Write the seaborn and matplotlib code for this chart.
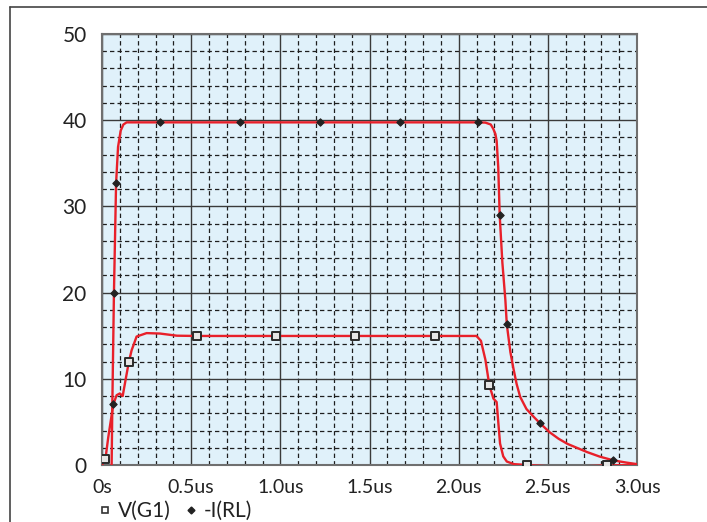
import numpy as np
import pandas as pd
import matplotlib
matplotlib.use("Agg")
import matplotlib.pyplot as plt
import seaborn as sns
from matplotlib.lines import Line2D

# V(G1) trace (time in us, volts)
vg1_t = [0, 0.019, 0.035, 0.063, 0.082, 0.10, 0.116, 0.135, 0.15, 0.166, 0.194, 0.25,
         0.325, 0.42, 0.53, 0.977, 1.42, 1.87, 2.10, 2.125, 2.15, 2.172, 2.195, 2.213, 2.222,
         2.232, 2.25, 2.27, 2.31, 2.385, 2.5, 2.65, 2.83, 3.0]
vg1_v = [0, 0.66, 3.2, 7.0, 8.1, 8.3, 8.0, 10.2, 11.9, 13.3, 14.9, 15.3,
         15.25, 15.0, 14.97, 14.97, 14.97, 14.97, 14.97, 14.4, 12.2, 9.25, 7.7, 7.3, 5.0,
         2.5, 1.0, 0.4, 0.1, 0.0, -0.15, -0.2, -0.05, 0.0]

# -I(RL) trace (time in us, amps)
irl_t = [0.054, 0.058, 0.067, 0.079, 0.09, 0.105, 0.12, 0.138, 0.323, 0.774, 1.22, 1.67,
         2.11, 2.15, 2.18, 2.194, 2.206, 2.213, 2.222, 2.23, 2.245, 2.262, 2.27, 2.29, 2.307,
         2.325, 2.345, 2.38, 2.42, 2.455, 2.51, 2.56, 2.61, 2.72, 2.79, 2.867, 2.94, 3.0]
irl_v = [0, 7.1, 20.0, 32.7, 36.9, 38.8, 39.5, 39.75, 39.75, 39.75, 39.75, 39.75,
         39.75, 39.72, 39.5, 39.0, 38.4, 37.6, 34.5, 29.0, 23.5, 19.1, 16.3, 13.1, 11.2,
         9.4, 7.9, 6.5, 5.6, 4.87, 3.8, 3.05, 2.45, 1.5, 0.98, 0.54, 0.28, 0.1]

# marker positions placed along the traces
vg1_mark_t = [0.019, 0.15, 0.53, 0.977, 1.42, 1.87, 2.172, 2.385, 2.83]
vg1_mark_v = [0.66, 11.9, 14.97, 14.97, 14.97, 14.97, 9.25, 0.0, 0.0]
irl_mark_t = [0.063, 0.067, 0.079, 0.323, 0.774, 1.22, 1.67, 2.11, 2.23, 2.27, 2.455, 2.867]
irl_mark_v = [7.1, 20.0, 32.7, 39.8, 39.8, 39.8, 39.8, 39.8, 29.0, 16.3, 4.87, 0.54]

x_ticks = [0, 0.5, 1.0, 1.5, 2.0, 2.5, 3.0]
x_labels = ["0s", "0.5us", "1.0us", "1.5us", "2.0us", "2.5us", "3.0us"]
y_ticks = [0, 10, 20, 30, 40, 50]
x_minor = [0.1, 0.2, 0.3, 0.4, 0.6, 0.7, 0.8, 0.9, 1.1, 1.2, 1.3, 1.4, 1.6, 1.7, 1.8, 1.9,
           2.1, 2.2, 2.3, 2.4, 2.6, 2.7, 2.8, 2.9]
y_minor = [2, 4, 6, 8, 12, 14, 16, 18, 22, 24, 26, 28, 32, 34, 36, 38, 42, 44, 46, 48]

sns.set_style("white")
plt.rcParams["font.family"] = ["Lato", "DejaVu Sans"]

red = "#e8202a"

fig = plt.figure(figsize=(7.07, 5.22), dpi=100)
ax = fig.add_axes([102 / 707, 1 - 465 / 522, 535 / 707, 431 / 522])
ax.set_facecolor("#e0f1fa")

# outer frame of the figure (top and left edges visible)
fig.add_artist(Line2D([10 / 707, 10 / 707], [0, 1 - 7 / 522], transform=fig.transFigure,
                      color="#444444", lw=1.2))
fig.add_artist(Line2D([10 / 707, 1], [1 - 7 / 522, 1 - 7 / 522], transform=fig.transFigure,
                      color="#444444", lw=1.2))

# grid drawn explicitly
dash = (0, (3.5, 2.5))
for t in x_minor:
    ax.axvline(t, color="#1e1e1e", lw=0.9, ls=dash, zorder=1)
for v in y_minor:
    ax.axhline(v, color="#1e1e1e", lw=0.9, ls=dash, zorder=1)
for t in x_ticks:
    ax.axvline(t, color="#3a3a3a", lw=1.0, zorder=1)
for v in y_ticks:
    ax.axhline(v, color="#3a3a3a", lw=1.0, zorder=1)

df_v = pd.DataFrame({"t": vg1_t, "v": vg1_v})
df_i = pd.DataFrame({"t": irl_t, "v": irl_v})
sns.lineplot(data=df_v, x="t", y="v", ax=ax, color=red, lw=1.7, sort=False, estimator=None, zorder=3)
sns.lineplot(data=df_i, x="t", y="v", ax=ax, color=red, lw=1.7, sort=False, estimator=None, zorder=3)

sns.scatterplot(x=vg1_mark_t, y=vg1_mark_v, ax=ax, marker="s", s=30, facecolor="#e6e6e6",
                edgecolor="#2a2a2a", linewidth=1.4, zorder=4)
sns.scatterplot(x=irl_mark_t, y=irl_mark_v, ax=ax, marker="D", s=14, color="#222222",
                edgecolor="#222222", linewidth=0.8, zorder=4)

ax.set_xlim(0, 3.0)
ax.set_ylim(0, 50)
ax.set_xticks(x_ticks)
ax.set_xticklabels(x_labels)
ax.set_yticks(y_ticks)
ax.grid(False)

for s in ax.spines.values():
    s.set_color("#6f6f6f")
    s.set_linewidth(1.5)
    s.set_visible(True)

ax.tick_params(axis="y", which="major", length=5, width=1.3, color="#6f6f6f",
               labelsize=15, pad=6, labelcolor="#222222")
ax.tick_params(axis="x", which="major", length=3, width=1.3, color="#6f6f6f",
               labelsize=14, pad=7, labelcolor="#222222")
ax.tick_params(which="minor", length=0)
ax.set_xlabel("")
ax.set_ylabel("")

handles = [
    Line2D([], [], ls="none", marker="s", markersize=5, markerfacecolor="white",
           markeredgecolor="#333333", markeredgewidth=1.2),
    Line2D([], [], ls="none", marker="D", markersize=3.5, markerfacecolor="#222222",
           markeredgecolor="#222222"),
]
fig.legend(handles, ["V(G1)", "-I(RL)"], loc="center left", bbox_to_anchor=(80 / 707, 1 - 511 / 522),
           ncol=2, frameon=False, fontsize=15, handlelength=0.6, handletextpad=0.3,
           columnspacing=0.7, labelcolor="#222222")

fig.savefig("out.png", dpi=100)
